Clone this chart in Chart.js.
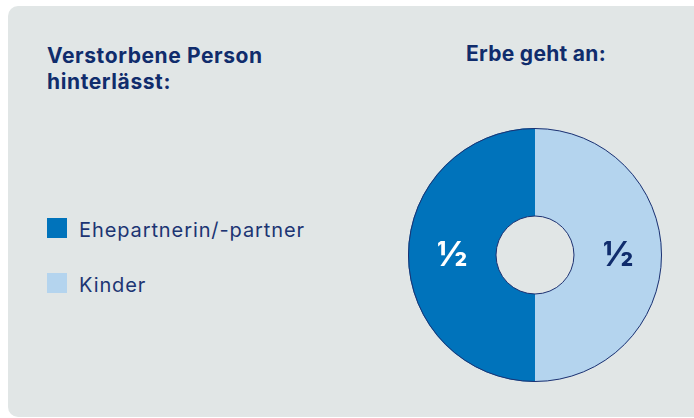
<!DOCTYPE html>
<html>
<head>
<meta charset="utf-8">
<script src="https://cdn.jsdelivr.net/npm/chart.js@4/dist/chart.umd.min.js"></script>
<style>
  html, body { margin: 0; padding: 0; background: #ffffff; width: 694px; height: 418px; overflow: hidden; }
  #panel { position: absolute; left: 8px; top: 6px; width: 720px; height: 411px; background: #e1e6e6; border-radius: 10px; }
  .title { position: absolute; font-family: Inter, "Noto Sans", sans-serif; font-weight: 700; font-size: 21px; line-height: 26px; color: #102c6c; }
  #t1 { left: 47px; top: 43px; letter-spacing: 0.6px; }
  #t2 { left: 466px; top: 41px; letter-spacing: 0.3px; }
  #legend { position: absolute; left: 47px; top: 218px; font-family: Inter, "Noto Sans", sans-serif; font-size: 20px; color: #1c3573; letter-spacing: 0.9px; }
  .item { position: relative; height: 20px; margin-bottom: 35px; }
  .sw { position: absolute; left: 0; top: 0; width: 20px; height: 20px; }
  .lbl { position: absolute; left: 32px; top: -1px; white-space: nowrap; line-height: 26px; }
  #wrap { position: absolute; left: 408px; top: 128px; width: 254px; height: 254px; }
</style>
</head>
<body>
<div id="panel"></div>
<div class="title" id="t1">Verstorbene Person<br>hinterlässt:</div>
<div class="title" id="t2">Erbe geht an:</div>
<div id="legend"></div>
<div id="wrap"><canvas id="c" width="254" height="254"></canvas></div>
<script>
const categories = ["Ehepartnerin/-partner", "Kinder"];
const shares = [1, 1];
const shareLabels = ["½", "½"];
const colors = ["#0073bb", "#b4d4ee"];
const labelColors = ["#ffffff", "#102c6c"];

const legend = document.getElementById('legend');
categories.forEach((c, i) => {
  const d = document.createElement('div');
  d.className = 'item';
  d.innerHTML = '<span class="sw" style="background:' + colors[i] + '"></span><span class="lbl">' + c + '</span>';
  legend.appendChild(d);
});

const outlinePlugin = {
  id: 'outline',
  afterDatasetsDraw(chart) {
    const ctx = chart.ctx;
    const arcs = chart.getDatasetMeta(0).data;
    if (!arcs.length) return;
    const a = arcs[0];
    ctx.save();
    ctx.strokeStyle = '#1d3170';
    ctx.lineWidth = 1;
    ctx.beginPath();
    ctx.arc(a.x, a.y, a.outerRadius - 0.5, 0, Math.PI * 2);
    ctx.stroke();
    ctx.beginPath();
    ctx.arc(a.x, a.y, a.innerRadius, 0, Math.PI * 2);
    ctx.stroke();
    ctx.font = '800 34px Inter, "Noto Sans", sans-serif';
    ctx.textAlign = 'center';
    ctx.textBaseline = 'middle';
    arcs.forEach((el, i) => {
      const p = el.tooltipPosition();
      ctx.fillStyle = labelColors[i];
      ctx.fillText(shareLabels[i], p.x, p.y + 1);
    });
    ctx.restore();
  }
};

new Chart(document.getElementById('c'), {
  type: 'doughnut',
  data: {
    labels: categories,
    datasets: [{
      data: shares,
      backgroundColor: colors,
      borderWidth: 0,
      hoverOffset: 0
    }]
  },
  options: {
    responsive: false,
    animation: false,
    cutout: '30.7%',
    rotation: 180,
    layout: { padding: 0 },
    plugins: { legend: { display: false }, tooltip: { enabled: false } },
    events: []
  },
  plugins: [outlinePlugin]
});
</script>
</body>
</html>
